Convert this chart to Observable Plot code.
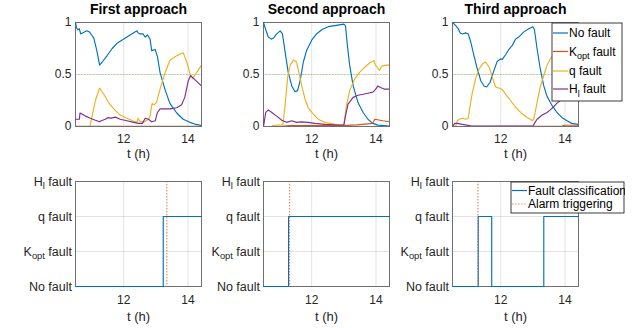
<!DOCTYPE html>
<html><head><meta charset="utf-8">
<script src="https://cdn.jsdelivr.net/npm/d3@7"></script>
<script src="https://cdn.jsdelivr.net/npm/@observablehq/plot@0.6"></script>
<style>
body{margin:0;background:#fff}
#chart{position:relative;width:632px;height:328px;font-family:"Liberation Sans",Arial,Helvetica,sans-serif;color:#262626;background:#fff;overflow:hidden}
#chart svg{position:absolute;left:0;top:0}
</style>
</head><body><div id="chart"></div>
<script>
// ---------- data ----------
const faultNames = ["No fault", "K_opt fault", "q fault", "H_l fault"];
const faultColors = ["#0072BD", "#D95319", "#EDB120", "#7E2F8E"];
const titles = ["First approach", "Second approach", "Third approach"];
const xTicks = [12, 14];
const yTicksTop = [0, 0.5, 1];
const tStart = 10.5, tEnd = 14.42;
const threshold = 0.5;

// First approach: [t (h), probability]
const p1NoFault = [[10.5,1.0],[10.53,0.95],[10.57,0.93],[10.62,0.94],[10.66,0.89],[10.72,0.9],[10.85,0.92],[10.93,0.91],[11.0,0.88],[11.07,0.85],[11.17,0.72],[11.25,0.59],[11.33,0.62],[11.48,0.68],[11.64,0.75],[11.79,0.8],[11.94,0.83],[12.1,0.86],[12.25,0.89],[12.41,0.92],[12.45,0.9],[12.51,0.89],[12.6,0.89],[12.67,0.86],[12.74,0.88],[12.82,0.84],[12.87,0.73],[12.98,0.74],[13.05,0.67],[13.13,0.52],[13.29,0.35],[13.44,0.22],[13.65,0.13],[13.85,0.07],[14.06,0.04],[14.25,0.02],[14.42,0.01]];
const p1Kopt = [[10.5,0.002],[14.42,0.002]];
const p1Q = [[10.5,0],[10.95,0],[11.05,0.15],[11.12,0.25],[11.25,0.37],[11.38,0.31],[11.53,0.23],[11.69,0.17],[11.89,0.11],[12.1,0.08],[12.31,0.05],[12.41,0.04],[12.45,0.08],[12.5,0.05],[12.62,0.04],[12.77,0.07],[12.82,0.1],[12.88,0.22],[12.95,0.21],[13.02,0.23],[13.13,0.36],[13.29,0.52],[13.44,0.64],[13.65,0.68],[13.85,0.71],[13.96,0.62],[14.06,0.51],[14.14,0.46],[14.25,0.51],[14.42,0.59]];
const p1Hl = [[10.5,0.07],[10.62,0.07],[10.64,0.13],[10.81,0.1],[10.96,0.08],[11.12,0.06],[11.25,0.045],[11.3,0.055],[11.43,0.07],[11.5,0.085],[11.6,0.08],[11.74,0.09],[11.89,0.07],[12.1,0.055],[12.31,0.04],[12.46,0.03],[12.58,0.03],[12.67,0.08],[12.77,0.07],[12.87,0.045],[12.98,0.055],[13.05,0.135],[13.13,0.17],[13.29,0.17],[13.44,0.17],[13.65,0.18],[13.8,0.21],[13.9,0.28],[14.01,0.44],[14.08,0.49],[14.18,0.46],[14.42,0.39]];

// Second approach
const p2NoFault = [[10.5,1.0],[10.57,0.93],[10.65,0.86],[10.74,0.84],[10.81,0.85],[10.91,0.89],[11.02,0.92],[11.09,0.89],[11.17,0.72],[11.27,0.52],[11.38,0.39],[11.48,0.335],[11.56,0.345],[11.64,0.44],[11.74,0.62],[11.84,0.73],[12.0,0.83],[12.15,0.89],[12.31,0.93],[12.51,0.96],[12.72,0.97],[13.0,0.985],[13.05,0.97],[13.11,0.78],[13.18,0.59],[13.29,0.39],[13.44,0.23],[13.6,0.135],[13.75,0.07],[13.9,0.03],[14.06,0.013],[14.42,0.003]];
const p2Kopt = [[10.5,0],[11.0,0],[11.3,0.008],[13.0,0.008],[13.4,0.015],[13.9,0.03],[13.96,0.07],[14.05,0.065],[14.21,0.055],[14.42,0.045]];
const p2Q = [[10.5,0],[10.75,0],[10.8,0.01],[11.1,0.015],[11.17,0.2],[11.25,0.47],[11.33,0.59],[11.43,0.64],[11.53,0.62],[11.6,0.52],[11.69,0.39],[11.79,0.265],[11.89,0.18],[12.05,0.12],[12.2,0.07],[12.41,0.04],[12.72,0.02],[13.0,0.013],[13.08,0.2],[13.18,0.345],[13.34,0.46],[13.49,0.52],[13.65,0.57],[13.8,0.61],[13.94,0.635],[13.98,0.59],[14.04,0.57],[14.11,0.54],[14.18,0.58],[14.32,0.59],[14.42,0.59]];
const p2Hl = [[10.5,0],[10.57,0.135],[10.65,0.16],[10.76,0.135],[10.91,0.1],[11.07,0.06],[11.22,0.04],[11.38,0.055],[11.53,0.04],[11.69,0.045],[11.89,0.04],[12.1,0.03],[12.41,0.02],[12.72,0.015],[13.0,0.013],[13.05,0.1],[13.13,0.215],[13.29,0.28],[13.44,0.3],[13.6,0.31],[13.75,0.32],[13.9,0.33],[13.98,0.355],[14.06,0.39],[14.14,0.375],[14.25,0.36],[14.42,0.36]];

// Third approach
const p3NoFault = [[10.5,1.0],[10.6,0.97],[10.68,0.94],[10.74,0.9],[10.81,0.89],[10.91,0.9],[10.99,0.89],[11.07,0.81],[11.17,0.68],[11.27,0.555],[11.38,0.44],[11.48,0.39],[11.56,0.38],[11.67,0.425],[11.79,0.54],[11.89,0.625],[12.0,0.65],[12.05,0.645],[12.15,0.69],[12.25,0.74],[12.36,0.78],[12.46,0.84],[12.56,0.86],[12.72,0.91],[12.87,0.94],[13.0,0.96],[13.05,0.93],[13.13,0.75],[13.23,0.555],[13.34,0.39],[13.44,0.29],[13.6,0.2],[13.75,0.135],[13.9,0.087],[14.06,0.055],[14.21,0.03],[14.42,0.02]];
const p3Kopt = [[10.5,0],[13.9,0.005],[14.0,0.012],[14.42,0.012]];
const p3Q = [[10.5,0],[10.6,0.005],[10.65,0.055],[10.71,0.07],[10.81,0.08],[10.91,0.07],[10.99,0.08],[11.05,0.2],[11.12,0.33],[11.22,0.46],[11.33,0.555],[11.43,0.6],[11.53,0.62],[11.64,0.57],[11.74,0.475],[11.84,0.38],[11.94,0.37],[12.05,0.355],[12.15,0.31],[12.31,0.25],[12.46,0.185],[12.62,0.135],[12.82,0.087],[13.0,0.055],[13.05,0.1],[13.13,0.23],[13.23,0.38],[13.34,0.49],[13.44,0.59],[13.54,0.65],[13.7,0.7],[13.9,0.73],[14.1,0.75],[14.42,0.77]];
const p3Hl = [[10.5,0],[10.57,0.03],[10.65,0.03],[10.81,0.02],[11.07,0.006],[13.0,0.003],[13.05,0.03],[13.13,0.07],[13.29,0.11],[13.44,0.135],[13.54,0.16],[13.65,0.19],[13.75,0.225],[13.9,0.26],[14.1,0.3],[14.42,0.33]];

// Fault classification: [t (h), class index] (step-after)
const c1 = [[tStart,0],[13.23,2],[tEnd,2]];
const c2 = [[tStart,0],[11.28,2],[tEnd,2]];
const c3 = [[tStart,0],[11.3,2],[11.72,0],[13.34,2],[tEnd,2]];
const alarmTimes = [13.34, 11.31, 11.29];
const bottomLegend = ["Fault classification", "Alarm triggering"];

// ---------- layout ----------
const W = 632, H = 328;
const lefts = [75, 263, 452], rights = [201, 389, 578];
const topRow = [22, 126], botRow = [181, 286];
const probs = [[p1NoFault,p1Kopt,p1Q,p1Hl],[p2NoFault,p2Kopt,p2Q,p2Hl],[p3NoFault,p3Kopt,p3Q,p3Hl]];
const classes = [c1, c2, c3];
const font = '"Liberation Sans",Arial,Helvetica,sans-serif';
const chart = document.getElementById("chart");

function subscripts(svg) {
  d3.select(svg).selectAll("text").each(function () {
    const s = this.textContent;
    const m = /^(.*?)_(\w+)(.*)$/.exec(s);
    if (!m) return;
    const t = d3.select(this);
    t.text(null);
    t.append("tspan").text(m[1]);
    t.append("tspan").attr("dy", 3.5).attr("font-size", "0.75em").text(m[2]);
    t.append("tspan").attr("dy", -3.5).text(m[3]);
  });
}

const baseStyle = {background: "transparent", fontFamily: font, fontSize: "12px", color: "#262626", overflow: "visible"};
const gridStyle = {stroke: "#262626", strokeOpacity: 0.13, strokeWidth: 1};

for (let i = 0; i < 3; i++) {
  const data = [];
  probs[i].forEach((arr, k) => arr.forEach(([t, v]) => data.push({t, v, s: faultNames[k]})));
  const top = Plot.plot({
    width: W, height: H,
    marginLeft: lefts[i], marginRight: W - rights[i], marginTop: topRow[0], marginBottom: H - topRow[1],
    style: baseStyle,
    x: {domain: [tStart, tEnd]},
    y: {domain: [0, 1]},
    color: {domain: faultNames, range: faultColors},
    marks: [
      Plot.gridX(xTicks, gridStyle),
      Plot.gridY([threshold], gridStyle),
      Plot.ruleY([threshold], {stroke: "#77AC30", strokeOpacity: 0.45, strokeDasharray: "1.5,1.5", strokeWidth: 1.2}),
      Plot.frame({stroke: "#707070", strokeWidth: 1}),
      Plot.line(data, {x: "t", y: "v", z: "s", stroke: "s", strokeWidth: 1.15, clip: true}),
      Plot.axisX(xTicks, {tickSize: 0, tickPadding: 8, label: null, fontSize: 12, tickFormat: d => String(d)}),
      Plot.axisY(yTicksTop, {tickSize: 0, tickPadding: 4, label: null, fontSize: 12, tickFormat: d => String(d)}),
      Plot.text([titles[i]], {frameAnchor: "top", lineAnchor: "middle", dy: -12.5, fontWeight: "bold", fontSize: 14, fill: "#000"}),
      Plot.text(["t (h)"], {frameAnchor: "bottom", lineAnchor: "middle", dy: 27, fontSize: 13})
    ]
  });
  chart.appendChild(top);

  const cdata = classes[i].map(([t, c]) => ({t, c}));
  const bot = Plot.plot({
    width: W, height: H,
    marginLeft: lefts[i], marginRight: W - rights[i], marginTop: botRow[0], marginBottom: H - botRow[1],
    style: baseStyle,
    x: {domain: [tStart, tEnd]},
    y: {domain: [0, 3]},
    marks: [
      Plot.gridX(xTicks, gridStyle),
      Plot.gridY([1, 2], gridStyle),
      Plot.frame({stroke: "#707070", strokeWidth: 1}),
      Plot.line(cdata, {x: "t", y: "c", curve: "step-after", stroke: faultColors[0], strokeWidth: 1.15}),
      Plot.ruleX([alarmTimes[i]], {stroke: faultColors[1], strokeOpacity: 0.65, strokeDasharray: "1.5,1.5", strokeWidth: 1.2}),
      Plot.axisX(xTicks, {tickSize: 0, tickPadding: 9, label: null, fontSize: 12, tickFormat: d => String(d)}),
      Plot.axisY([0, 1, 2, 3], {tickSize: 0, tickPadding: 3.5, label: null, fontSize: 12.5, tickFormat: d => faultNames[d]}),
      Plot.text(["t (h)"], {frameAnchor: "bottom", lineAnchor: "middle", dy: 30, fontSize: 13})
    ]
  });
  subscripts(bot);
  chart.appendChild(bot);
}

// ---------- legends ----------
function legend(x, y, w, h, items, rows) {
  const svg = d3.create("svg").attr("width", w + 2).attr("height", h + 2)
    .style("left", (x - 1) + "px").style("top", (y - 1) + "px")
    .attr("font-family", font).attr("font-size", 12).attr("fill", "#000");
  svg.append("rect").attr("x", 1).attr("y", 1).attr("width", w).attr("height", h)
    .attr("fill", "#fff").attr("stroke", "#262626").attr("stroke-width", 0.9);
  items.forEach((it, k) => {
    const cy = rows[k] + 1;
    svg.append("line").attr("x1", 2).attr("x2", 17).attr("y1", cy).attr("y2", cy)
      .attr("stroke", it.color).attr("stroke-width", it.width || 1.2)
      .attr("stroke-dasharray", it.dash || null).attr("stroke-opacity", it.opacity || 1);
    svg.append("text").attr("x", 18).attr("y", cy).attr("dy", "0.35em").text(it.label);
  });
  subscripts(svg.node());
  chart.appendChild(svg.node());
}
legend(552, 23, 70, 78, faultNames.map((n, k) => ({label: n, color: faultColors[k]})), [10, 28.5, 48, 66]);
legend(511, 182, 113, 31, [
  {label: bottomLegend[0], color: faultColors[0]},
  {label: bottomLegend[1], color: faultColors[1], dash: "1.5,1.5", opacity: 0.65}
], [8.5, 22]);
</script>
</body></html>
